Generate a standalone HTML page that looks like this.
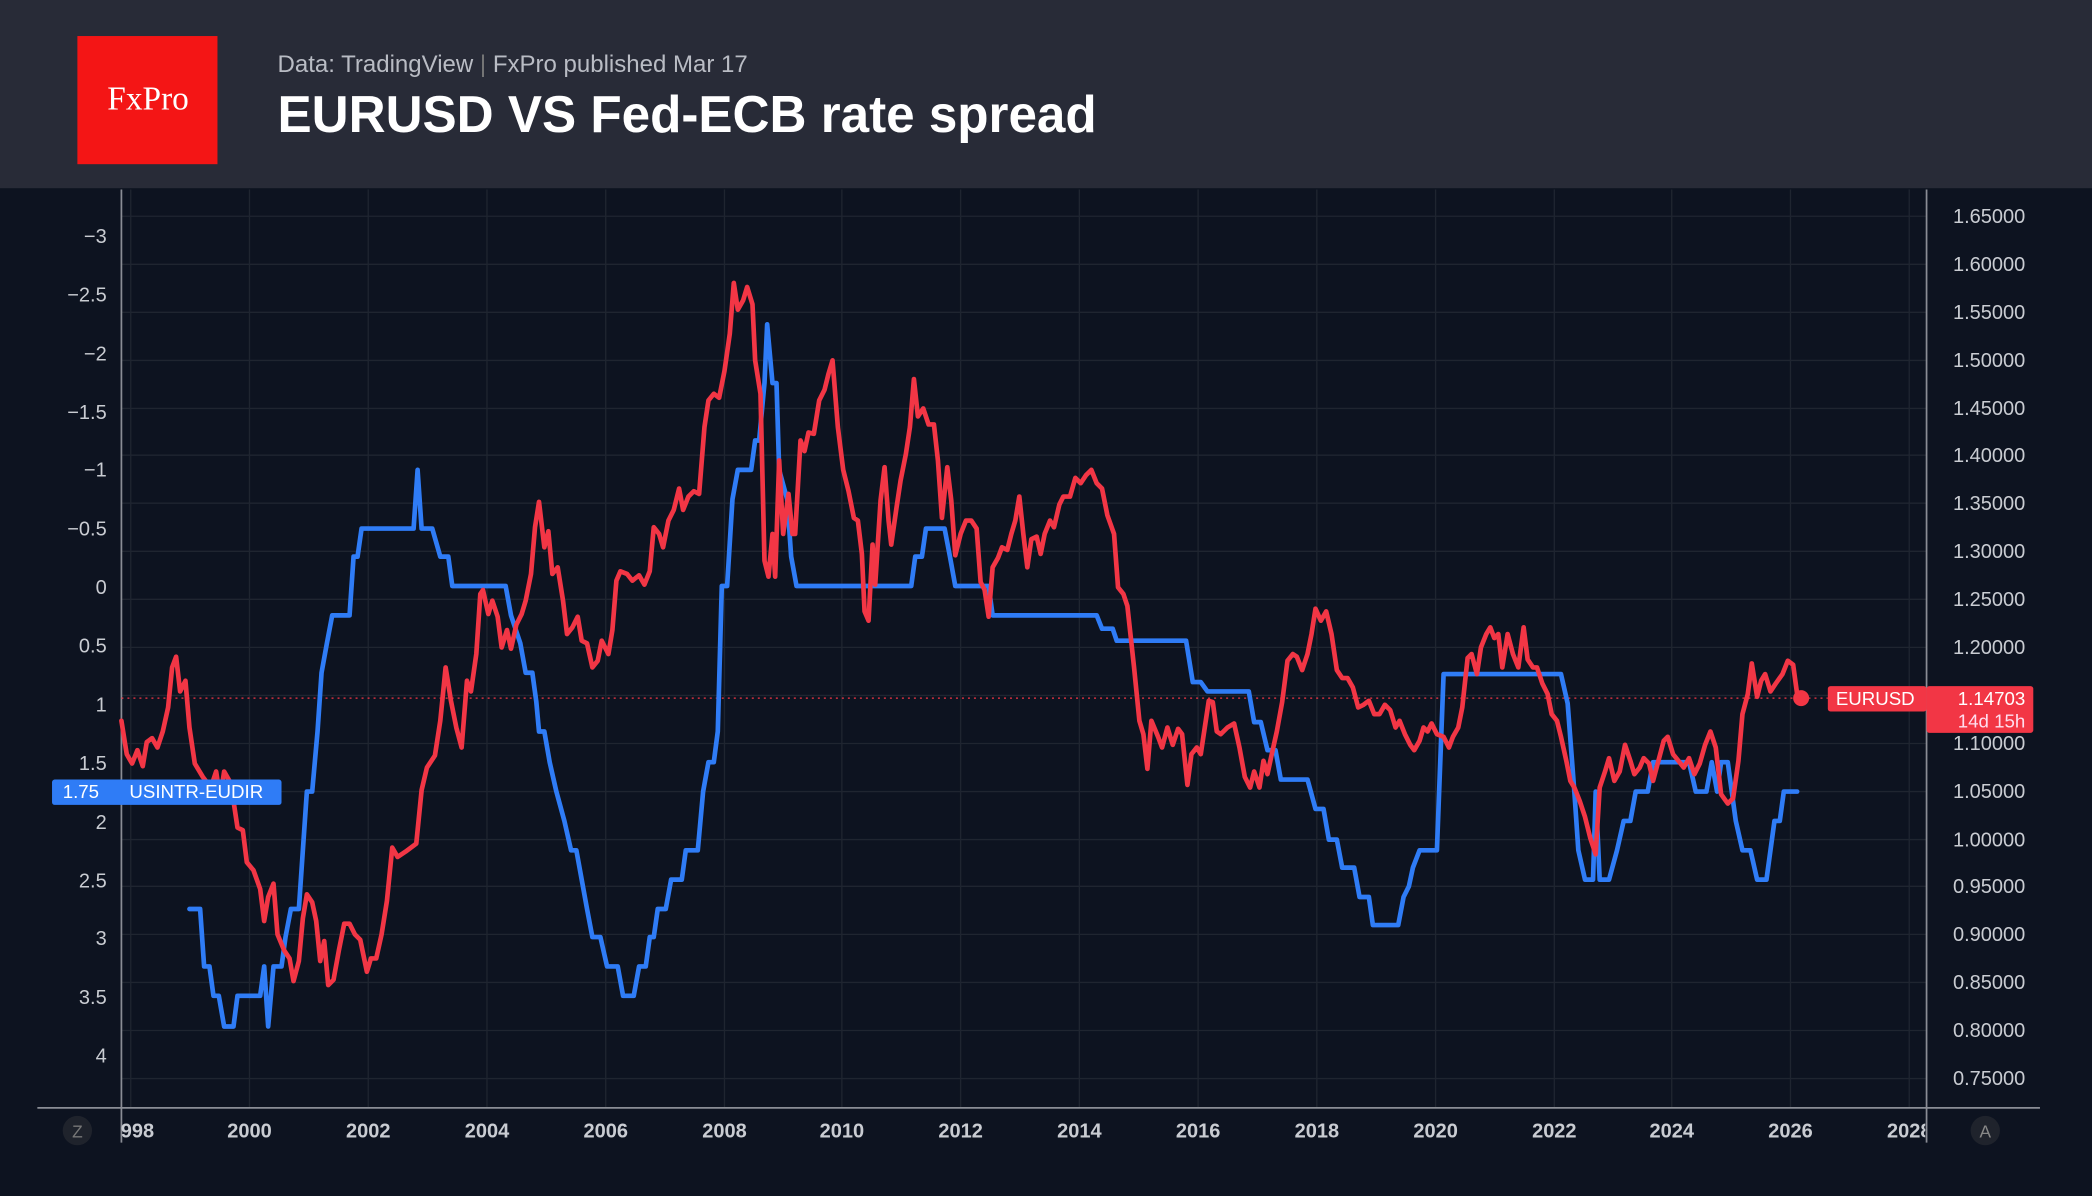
<!DOCTYPE html>
<html><head><meta charset="utf-8"><style>
html,body{margin:0;padding:0;background:#0d1320;}
svg{display:block}
</style></head><body>
<svg width="2092" height="1196" viewBox="0 0 1568 896" preserveAspectRatio="none" xmlns="http://www.w3.org/2000/svg" font-family="'Liberation Sans', sans-serif">
<defs><clipPath id="c"><rect x="0" y="0" width="1443" height="896"/></clipPath></defs>
<rect width="1568" height="896" fill="#0d1320"/>
<rect width="1568" height="141" fill="#282b37"/>
<rect x="58" y="27" width="105" height="96" fill="#f41515"/>
<text x="111" y="82" fill="#fff" font-family="'Liberation Serif', serif" font-size="25" text-anchor="middle">FxPro</text>
<text x="208" y="54" fill="#b9bcc4" font-size="18">Data: TradingView <tspan fill="#777">|</tspan> FxPro published Mar 17</text>
<text x="208" y="99" fill="#fff" font-size="39" font-weight="bold" textLength="614" lengthAdjust="spacingAndGlyphs">EURUSD VS Fed-ECB rate spread</text>

<g stroke="#1f2530" stroke-width="1">
<line x1="98" y1="142" x2="98" y2="830"/><line x1="187" y1="142" x2="187" y2="830"/><line x1="276" y1="142" x2="276" y2="830"/><line x1="365" y1="142" x2="365" y2="830"/><line x1="454" y1="142" x2="454" y2="830"/><line x1="543" y1="142" x2="543" y2="830"/><line x1="631" y1="142" x2="631" y2="830"/><line x1="720" y1="142" x2="720" y2="830"/><line x1="809" y1="142" x2="809" y2="830"/><line x1="898" y1="142" x2="898" y2="830"/><line x1="987" y1="142" x2="987" y2="830"/><line x1="1076" y1="142" x2="1076" y2="830"/><line x1="1165" y1="142" x2="1165" y2="830"/><line x1="1253" y1="142" x2="1253" y2="830"/><line x1="1342" y1="142" x2="1342" y2="830"/><line x1="1431" y1="142" x2="1431" y2="830"/>
<line x1="91" y1="162" x2="1444" y2="162"/><line x1="91" y1="198" x2="1444" y2="198"/><line x1="91" y1="234" x2="1444" y2="234"/><line x1="91" y1="270" x2="1444" y2="270"/><line x1="91" y1="306" x2="1444" y2="306"/><line x1="91" y1="341" x2="1444" y2="341"/><line x1="91" y1="377" x2="1444" y2="377"/><line x1="91" y1="413" x2="1444" y2="413"/><line x1="91" y1="449" x2="1444" y2="449"/><line x1="91" y1="485" x2="1444" y2="485"/><line x1="91" y1="521" x2="1444" y2="521"/><line x1="91" y1="557" x2="1444" y2="557"/><line x1="91" y1="593" x2="1444" y2="593"/><line x1="91" y1="629" x2="1444" y2="629"/><line x1="91" y1="664" x2="1444" y2="664"/><line x1="91" y1="700" x2="1444" y2="700"/><line x1="91" y1="736" x2="1444" y2="736"/><line x1="91" y1="772" x2="1444" y2="772"/><line x1="91" y1="808" x2="1444" y2="808"/>
</g>
<g stroke="#8a8d95" stroke-width="1.3">
<line x1="91" y1="142" x2="91" y2="856"/><line x1="1444" y1="142" x2="1444" y2="856"/><line x1="28" y1="830" x2="1529" y2="830"/>
</g>

<g fill="#c9ccd2" font-size="15" text-anchor="end">
<text x="80" y="182">−3</text><text x="80" y="226">−2.5</text><text x="80" y="270">−2</text><text x="80" y="314">−1.5</text><text x="80" y="357">−1</text><text x="80" y="401">−0.5</text><text x="80" y="445">0</text><text x="80" y="489">0.5</text><text x="80" y="533">1</text><text x="80" y="577">1.5</text><text x="80" y="621">2</text><text x="80" y="665">2.5</text><text x="80" y="708">3</text><text x="80" y="752">3.5</text><text x="80" y="796">4</text>
</g>
<g fill="#c9ccd2" font-size="15" text-anchor="end">
<text x="1518" y="167">1.65000</text><text x="1518" y="203">1.60000</text><text x="1518" y="239">1.55000</text><text x="1518" y="275">1.50000</text><text x="1518" y="311">1.45000</text><text x="1518" y="346">1.40000</text><text x="1518" y="382">1.35000</text><text x="1518" y="418">1.30000</text><text x="1518" y="454">1.25000</text><text x="1518" y="490">1.20000</text><text x="1518" y="562">1.10000</text><text x="1518" y="598">1.05000</text><text x="1518" y="634">1.00000</text><text x="1518" y="669">0.95000</text><text x="1518" y="705">0.90000</text><text x="1518" y="741">0.85000</text><text x="1518" y="777">0.80000</text><text x="1518" y="813">0.75000</text>
</g>
<g fill="#c9ccd2" font-size="15" font-weight="bold" text-anchor="middle" clip-path="url(#c)">
<text x="103" y="852">998</text><text x="187" y="852">2000</text><text x="276" y="852">2002</text><text x="365" y="852">2004</text><text x="454" y="852">2006</text><text x="543" y="852">2008</text><text x="631" y="852">2010</text><text x="720" y="852">2012</text><text x="809" y="852">2014</text><text x="898" y="852">2016</text><text x="987" y="852">2018</text><text x="1076" y="852">2020</text><text x="1165" y="852">2022</text><text x="1253" y="852">2024</text><text x="1342" y="852">2026</text><text x="1431" y="852">2028</text>
</g>
<circle cx="58" cy="847" r="11" fill="#1f232c"/><text x="58" y="852" fill="#777" font-size="13" text-anchor="middle">Z</text>
<circle cx="1488" cy="847" r="11" fill="#1f232c"/><text x="1488" y="852" fill="#888" font-size="13" text-anchor="middle">A</text>

<line x1="91" y1="523" x2="1370" y2="523" stroke="#f23645" stroke-width="1" stroke-dasharray="1.5,3"/>

<polyline fill="none" stroke="#2f7cf6" stroke-width="3.5" stroke-linejoin="round" stroke-linecap="round" points="142,681 150,681 153,724 157,724 160,746 164,746 168,769 175,769 178,746 195,746 198,724 201,769 205,724 211,724 214,702 218,681 224,681 230,593 234,593 238,548 241,504 245,482 249,461 262,461 265,417 268,417 271,396 310,396 313,352 316,396 324,396 330,417 336,417 339,439 379,439 383,461 390,482 394,504 399,504 402,526 404,548 408,548 412,571 417,593 423,615 428,637 432,637 436,659 440,681 444,702 450,702 455,724 463,724 467,746 475,746 479,724 484,724 487,702 490,702 493,681 499,681 503,659 511,659 514,637 523,637 527,593 531,571 535,571 538,548 541,439 545,439 549,374 553,352 563,352 566,330 569,330 573,287 575,243 579,287 582,287 584,352 590,374 593,417 597,439 683,439 686,417 691,417 694,396 708,396 712,417 716,439 741,439 744,461 822,461 826,471 834,471 837,480 889,480 894,511 900,511 905,518 936,518 940,541 945,541 950,562 956,562 960,584 980,584 986,606 992,606 996,629 1002,629 1006,650 1015,650 1019,672 1026,672 1029,693 1048,693 1052,672 1056,664 1059,650 1064,637 1077,637 1082,505 1170,505 1175,527 1180,593 1183,637 1188,659 1194,659 1196,593 1199,659 1206,659 1212,637 1217,615 1222,615 1226,593 1235,593 1239,571 1266,571 1271,593 1279,593 1283,571 1287,593 1290,571 1295,571 1301,615 1306,637 1312,637 1317,659 1324,659 1330,615 1334,615 1337,593 1347,593"/>

<polyline fill="none" stroke="#f23645" stroke-width="3.5" stroke-linejoin="round" stroke-linecap="round" points="91,540 95,565 99,572 103,562 107,574 110,556 114,553 118,560 122,548 126,530 129,500 132,492 135,518 139,510 142,545 146,572 152,582 158,590 162,578 165,598 168,578 172,585 175,600 178,620 182,622 185,646 190,652 195,666 198,690 201,672 205,662 208,700 213,712 217,718 220,735 224,720 227,688 230,670 234,676 237,690 240,720 243,705 246,738 250,734 254,712 258,692 262,692 266,700 270,704 275,728 278,718 282,718 286,700 290,675 294,635 298,642 304,638 312,632 316,592 320,575 326,566 330,540 334,500 338,525 342,545 346,560 350,510 353,518 357,490 360,445 362,442 366,460 369,450 373,462 376,485 380,472 383,486 387,468 391,460 394,450 398,430 401,395 404,376 408,410 411,398 414,430 418,425 422,450 425,475 429,470 433,462 436,480 440,482 444,500 448,495 451,480 456,490 459,472 462,435 465,428 470,430 474,435 479,431 483,438 487,428 490,395 494,400 497,410 501,390 505,382 509,366 512,382 516,372 520,368 524,370 528,320 531,300 535,295 539,298 543,278 547,250 550,212 553,232 557,225 560,215 564,228 566,270 570,295 573,420 576,432 579,400 581,432 584,345 587,400 591,370 594,400 596,400 600,330 603,338 606,324 610,325 614,300 618,292 621,280 624,270 628,320 632,352 636,368 640,388 643,390 646,415 648,458 651,465 654,408 656,438 660,375 663,350 666,390 668,408 672,380 675,360 679,340 682,320 685,284 688,312 692,306 696,318 700,318 703,345 706,388 710,350 713,375 716,416 720,400 724,390 728,390 732,396 735,436 738,442 741,462 744,425 748,418 751,410 755,412 758,400 761,390 764,372 767,400 770,425 773,404 777,402 780,415 783,400 787,390 790,395 794,378 797,372 802,372 806,358 810,362 814,356 818,352 822,362 826,366 830,386 835,400 838,440 842,445 845,454 850,500 854,540 857,550 860,576 863,540 868,552 871,560 875,545 879,558 883,546 886,550 890,588 893,565 897,560 900,565 903,545 906,525 909,526 912,548 915,550 920,545 925,542 929,560 933,582 937,590 940,578 944,590 947,570 950,580 953,566 957,548 961,526 965,495 969,490 972,492 976,502 980,490 983,475 986,456 990,465 994,458 998,475 1002,502 1006,508 1010,508 1014,515 1018,530 1022,528 1026,525 1030,535 1034,535 1038,528 1042,532 1046,545 1049,540 1053,550 1057,558 1060,562 1064,555 1067,545 1070,548 1073,542 1077,550 1082,552 1086,560 1089,552 1093,545 1096,530 1100,493 1103,490 1107,505 1110,485 1114,475 1117,470 1120,478 1123,475 1126,500 1130,475 1134,490 1138,500 1142,470 1145,494 1149,500 1152,500 1156,512 1160,520 1163,535 1167,540 1170,552 1174,570 1177,585 1180,590 1184,600 1188,612 1192,628 1196,640 1199,590 1203,578 1206,568 1210,585 1214,578 1218,558 1222,570 1225,580 1229,575 1232,568 1236,572 1239,585 1243,570 1247,555 1250,552 1254,565 1258,570 1262,575 1266,568 1270,580 1274,572 1278,558 1282,548 1286,560 1290,595 1295,602 1299,598 1303,570 1306,535 1310,520 1313,497 1317,522 1320,510 1323,505 1327,518 1331,512 1336,505 1340,495 1344,498 1347,520 1350,523"/>
<circle cx="1350" cy="523" r="6" fill="#f23645"/>

<rect x="39" y="584" width="172" height="19" rx="2" fill="#2f7cf6"/>
<text x="47" y="598" fill="#fff" font-size="14">1.75</text>
<text x="97" y="598" fill="#fff" font-size="14">USINTR-EUDIR</text>

<rect x="1370" y="514" width="74" height="19" rx="2" fill="#f23645"/>
<text x="1376" y="528" fill="#fff" font-size="14">EURUSD</text>
<rect x="1444" y="514" width="80" height="35" rx="2" fill="#f23645"/>
<text x="1518" y="528" fill="#fff" font-size="14" text-anchor="end">1.14703</text>
<text x="1518" y="545" fill="#fde" font-size="14" text-anchor="end">14d 15h</text>
</svg>
</body></html>
